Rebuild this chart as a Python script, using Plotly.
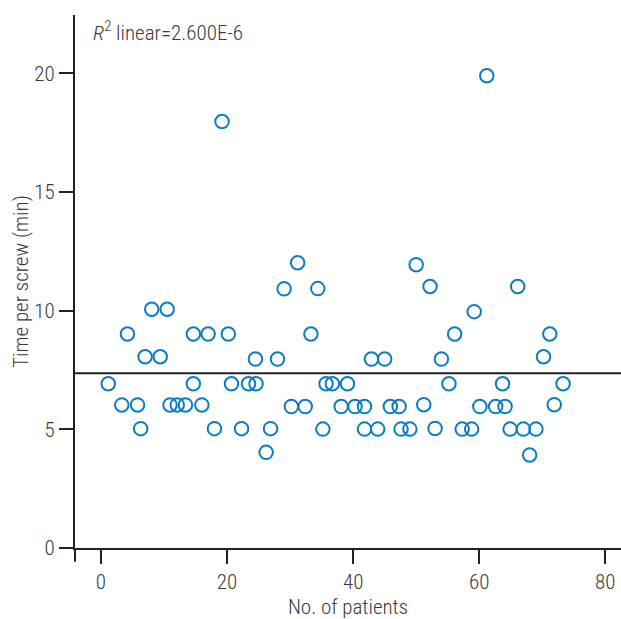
import plotly.graph_objects as go
import numpy as np

patients = [1.16, 3.3, 4.2, 5.8, 6.3, 7.0, 8.05, 9.4, 10.5, 10.95,
            12.1, 13.4, 14.65, 14.65, 16.0, 17.0, 18.0, 19.2, 20.2, 20.7,
            22.3, 23.4, 24.5, 24.6, 26.2, 26.9, 28.0, 29.05, 30.2, 31.2,
            32.4, 33.3, 34.4, 35.2, 35.7, 36.7, 38.1, 39.1, 40.3, 41.8,
            41.8, 42.9, 43.9, 45.0, 45.9, 47.3, 47.6, 49.0, 50.0, 51.2,
            52.2, 53.0, 54.0, 55.2, 56.1, 57.3, 58.8, 59.2, 60.1, 61.2,
            62.6, 63.7, 64.1, 64.9, 66.1, 67.0, 68.0, 69.0, 70.2, 71.2,
            71.9, 73.3]
time_per_screw = [6.92, 6.03, 9.02, 6.03, 5.03, 8.06, 10.06, 8.06, 10.06, 6.03,
                  6.03, 6.03, 9.02, 6.92, 6.03, 9.02, 5.03, 17.97, 9.02, 6.92,
                  5.03, 6.92, 7.96, 6.92, 4.03, 5.03, 7.96, 10.92, 5.96, 12.02,
                  5.96, 9.02, 10.93, 5.01, 6.92, 6.92, 5.96, 6.92, 5.96, 5.01,
                  5.96, 7.96, 5.01, 7.96, 5.96, 5.96, 5.01, 5.01, 11.94, 6.04,
                  11.02, 5.04, 7.96, 6.92, 9.02, 5.01, 5.01, 9.96, 5.96, 19.90,
                  5.96, 6.92, 5.96, 5.01, 11.02, 5.01, 3.92, 5.01, 8.06, 9.02,
                  6.04, 6.92]
x_ticks = [0, 20, 40, 60, 80]
y_ticks = [0, 5, 10, 15, 20]
r2_text = "<i>R</i><sup>2</sup> linear=2.600E-6"

mean_y = float(np.mean(time_per_screw))

font_family = "Roboto Condensed, Liberation Sans Narrow, sans-serif"
axis_color = "#222222"
text_color = "#3a3a3a"
fnt = dict(family=font_family, size=21, color=text_color, weight=300)

fig = go.Figure()
fig.add_trace(go.Scatter(
    x=patients, y=time_per_screw, mode="markers",
    marker=dict(symbol="circle-open", size=13.5, color="#0A7DC2",
                line=dict(width=2, color="#0A7DC2")),
    showlegend=False, cliponaxis=False, hoverinfo="skip",
))

fig.add_shape(type="line", xref="x domain", yref="y", x0=0, x1=1,
              y0=mean_y, y1=mean_y, line=dict(color=axis_color, width=2))
# y-axis line continuation below the x axis
fig.add_shape(type="line", xref="x domain", yref="paper", x0=0, x1=0,
              y0=0, y1=-0.026, line=dict(color=axis_color, width=2))

fig.add_annotation(text=r2_text, xref="paper", yref="paper", x=0.03, y=1.0,
                   xanchor="left", yanchor="top", showarrow=False, font=fnt)

fig.update_layout(
    width=621, height=619,
    margin=dict(l=75, r=0, t=15, b=71),
    paper_bgcolor="white", plot_bgcolor="white",
    font=fnt,
    xaxis=dict(range=[-4.12, 82.49], tickvals=x_ticks, ticks="outside", ticklen=14,
               tickwidth=2, tickcolor=axis_color, showline=True, linecolor=axis_color,
               linewidth=2, showgrid=False, zeroline=False, automargin=False,
               title=dict(text="No. of patients", standoff=6, font=fnt),
               tickfont=fnt),
    yaxis=dict(range=[0, 22.46], tickvals=y_ticks, ticks="outside", ticklen=14,
               tickwidth=2, tickcolor=axis_color, showline=True, linecolor=axis_color,
               linewidth=2, showgrid=False, zeroline=False, automargin=False,
               title=dict(text="Time per screw (min)", standoff=0, font=fnt),
               tickfont=fnt),
)

fig.write_html("out.html", config={"displayModeBar": False},
               post_script="document.body.style.margin='0';document.body.style.overflow='hidden';")
